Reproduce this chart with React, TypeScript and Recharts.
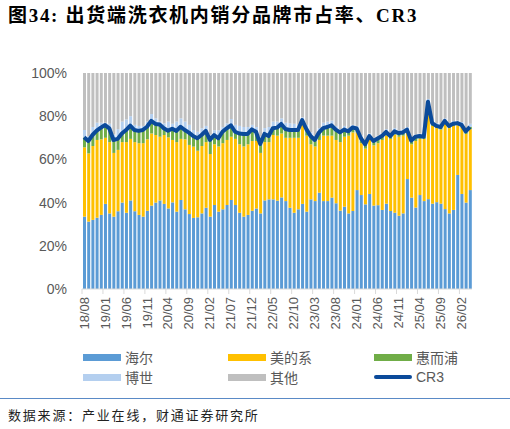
import { ComposedChart, Bar, Line, XAxis, YAxis } from "recharts";

const months = [
  "18/08", "18/09", "18/10", "18/11", "18/12",
  "19/01", "19/02", "19/03", "19/04", "19/05", "19/06", "19/07", "19/08", "19/09", "19/10", "19/11", "19/12",
  "20/01", "20/02", "20/03", "20/04", "20/05", "20/06", "20/07", "20/08", "20/09", "20/10", "20/11", "20/12",
  "21/01", "21/02", "21/03", "21/04", "21/05", "21/06", "21/07", "21/08", "21/09", "21/10", "21/11", "21/12",
  "22/01", "22/02", "22/03", "22/04", "22/05", "22/06", "22/07", "22/08", "22/09", "22/10", "22/11", "22/12",
  "23/01", "23/02", "23/03", "23/04", "23/05", "23/06", "23/07", "23/08", "23/09", "23/10", "23/11", "23/12",
  "24/01", "24/02", "24/03", "24/04", "24/05", "24/06", "24/07", "24/08", "24/09", "24/10", "24/11", "24/12",
  "25/01", "25/02", "25/03", "25/04", "25/05", "25/06", "25/07", "25/08", "25/09", "25/10", "25/11", "25/12",
  "26/01", "26/02", "26/03", "26/04",
];

// shares in %
const haier = [
  33.5, 31.2, 32.0, 33.0, 34.3, 39.4, 35.0, 33.5, 36.0, 40.0,
  35.3, 41.0, 36.0, 34.3, 33.5, 36.2, 38.6, 40.0, 41.0, 39.4,
  37.3, 40.1, 35.8, 41.2, 36.9, 34.7, 32.9, 33.2, 35.0, 37.6,
  33.5, 38.9, 35.8, 36.9, 38.9, 41.2, 38.9, 35.3, 33.5, 34.3,
  36.2, 37.3, 35.0, 41.0, 41.5, 41.5, 40.9, 42.4, 40.7, 37.6,
  35.3, 36.9, 39.4, 35.8, 41.5, 40.7, 44.6, 40.7, 40.7, 42.3,
  39.7, 36.3, 38.1, 35.0, 36.1, 45.8, 43.5, 39.2, 44.0, 38.6,
  38.8, 36.6, 39.5, 36.1, 35.3, 33.9, 35.0, 50.9, 42.3, 37.7,
  43.5, 40.7, 41.6, 39.5, 40.2, 39.5, 37.0, 35.0, 36.6, 52.8,
  44.0, 40.0, 45.8,
];

const midea = [
  32.1, 31.6, 34.2, 36.0, 35.0, 30.6, 33.0, 29.5, 28.4, 28.0,
  32.7, 28.5, 32.0, 33.2, 34.0, 33.1, 33.4, 31.3, 29.5, 31.9,
  32.9, 28.9, 32.2, 28.3, 32.4, 32.0, 33.0, 30.8, 31.2, 30.4,
  29.0, 28.1, 30.2, 30.6, 30.1, 29.3, 30.6, 31.7, 32.5, 32.7,
  32.3, 31.2, 28.0, 27.0, 26.5, 29.8, 30.1, 29.6, 29.3, 32.4,
  34.7, 33.1, 36.6, 35.2, 25.5, 25.3, 24.4, 30.3, 30.3, 28.7,
  29.3, 31.7, 32.4, 36.0, 36.4, 26.7, 24.0, 25.8, 25.5, 27.9,
  28.7, 32.4, 31.5, 33.4, 36.2, 36.6, 36.0, 21.6, 24.7, 30.8,
  26.0, 28.8, 43.9, 36.0, 34.3, 34.3, 39.5, 39.5, 38.9, 23.0,
  31.0, 31.8, 28.2,
];

const whirlpool = [
  4.6, 5.7, 5.1, 4.3, 5.4, 5.9, 6.4, 6.0, 5.1, 4.0,
  5.6, 6.1, 5.6, 5.7, 6.1, 5.8, 5.8, 5.1, 5.7, 3.1,
  3.1, 5.2, 5.2, 5.6, 4.3, 5.7, 4.9, 5.8, 5.1, 5.2,
  6.5, 4.3, 3.8, 5.3, 5.4, 5.3, 3.3, 5.0, 5.8, 4.8,
  5.4, 4.3, 4.1, 3.8, 2.8, 3.1, 3.7, 4.4, 4.1, 3.6,
  3.6, 3.6, 2.2, 3.0, 3.8, 3.0, 3.4, 3.5, 4.0, 4.8,
  4.8, 4.5, 3.3, 2.0, 2.3, 1.8, 2.3, 2.0, 1.3, 2.0,
  2.2, 1.8, 1.7, 1.3, 1.5, 1.7, 1.5, 1.3, 1.7, 2.0,
  1.3, 1.0, 1.2, 1.3, 1.0, 1.2, 1.3, 1.0, 1.0, 1.0,
  1.0, 1.2, 1.0,
];

const bosch = [
  3.4, 2.3, 3.7, 3.7, 2.3, 1.1, 2.1, 2.5, 4.5, 5.5,
  4.9, 4.4, 2.4, 2.3, 1.9, 2.4, 3.2, 2.6, 1.3, 2.3,
  4.2, 2.3, 4.3, 3.9, 3.9, 3.6, 2.8, 3.0, 3.1, 2.3,
  2.5, 2.2, 3.7, 2.2, 2.3, 2.9, 3.2, 3.5, 3.2, 3.2,
  2.1, 2.2, 3.4, 2.7, 4.2, 3.1, 2.8, 2.6, 2.9, 3.1,
  2.9, 2.4, 1.3, 2.0, 1.7, 2.0, 2.1, 2.5, 2.5, 2.2,
  1.7, 1.5, 1.7, 1.5, 1.2, 1.2, 1.2, 1.5, 1.2, 1.5,
  1.3, 1.2, 1.3, 1.2, 1.5, 1.3, 1.5, 1.2, 1.3, 1.0,
  1.2, 1.3, 1.3, 1.2, 1.3, 1.2, 1.2, 1.3, 1.3, 1.2,
  1.3, 1.5, 1.5,
];

const others = [
  26.4, 29.2, 25.0, 23.0, 23.0, 23.0, 23.5, 28.5, 26.0, 22.5,
  21.5, 20.0, 24.0, 24.5, 24.5, 22.5, 19.0, 21.0, 22.5, 23.3,
  22.5, 23.5, 22.5, 21.0, 22.5, 24.0, 26.4, 27.2, 25.6, 24.5,
  28.5, 26.5, 26.5, 25.0, 23.3, 21.3, 24.0, 24.5, 25.0, 25.0,
  24.0, 25.0, 29.5, 25.5, 25.0, 22.5, 22.5, 21.0, 23.0, 23.3,
  23.5, 24.0, 20.5, 24.0, 27.5, 29.0, 25.5, 23.0, 22.5, 22.0,
  24.5, 26.0, 24.5, 25.5, 24.0, 24.5, 29.0, 31.5, 28.0, 30.0,
  29.0, 28.0, 26.0, 28.0, 25.5, 26.5, 26.0, 25.0, 30.0, 28.5,
  28.0, 28.2, 12.0, 22.0, 23.2, 23.8, 21.0, 23.2, 22.2, 22.0,
  22.7, 25.5, 23.5,
];

const cr3 = [
  70.2, 68.5, 71.3, 73.3, 74.7, 75.9, 74.4, 69.0, 69.5, 72.0,
  73.6, 75.6, 73.6, 73.2, 73.6, 75.1, 77.8, 76.4, 76.2, 74.4,
  73.3, 74.2, 73.2, 75.1, 73.6, 72.4, 70.8, 69.8, 71.3, 73.2,
  69.0, 71.3, 69.8, 72.8, 74.4, 75.8, 72.8, 72.0, 71.8, 71.8,
  73.9, 72.8, 67.1, 71.8, 70.8, 74.4, 74.7, 76.4, 74.1, 73.6,
  73.6, 73.6, 78.2, 74.0, 70.8, 69.0, 72.4, 74.5, 75.0, 75.8,
  73.8, 72.5, 73.8, 73.0, 74.8, 74.3, 69.8, 67.0, 70.8, 68.5,
  69.7, 70.8, 72.7, 70.8, 73.0, 72.2, 72.5, 73.8, 68.7, 70.5,
  70.8, 70.5, 86.7, 76.8, 75.5, 75.0, 77.8, 75.5, 76.5, 76.8,
  76.0, 73.0, 75.0,
];

const yTicks = [0, 20, 40, 60, 80, 100];

const data = months.map((month, i) => ({
  month,
  haier: haier[i],
  midea: midea[i],
  whirlpool: whirlpool[i],
  bosch: bosch[i],
  others: others[i],
  cr3: cr3[i],
}));

const COLORS = {
  haier: "#5B9BD5",
  midea: "#FFC000",
  whirlpool: "#70AD47",
  bosch: "#B4CFEF",
  others: "#BFBFBF",
  cr3: "#0B4A9A",
};

const FONT = "'Liberation Sans', Arial, 'Noto Sans CJK SC', sans-serif";
const CHART_W = 510;
const MARGIN = { top: 73, right: 38, bottom: 0, left: 0 };
const Y_AXIS_W = 82;
const halfBand = (CHART_W - MARGIN.left - MARGIN.right - Y_AXIS_W) / months.length / 2;

function MonthTick(props: any) {
  const { x, y, index, payload } = props;
  if (index % 5 !== 0) return <g />;
  return (
    <g transform={`translate(${x},${y})`}>
      <line x1={-halfBand} x2={-halfBand} y1={0} y2={5} stroke="#D9D9D9" />
      <text
        transform="rotate(-90)"
        x={-8}
        y={4.5}
        textAnchor="end"
        fontSize={13}
        fill="#595959"
        fontFamily={FONT}
      >
        {payload.value}
      </text>
    </g>
  );
}

const legendItems = [
  { name: "海尔", color: COLORS.haier, left: 83, top: 357 },
  { name: "美的系", color: COLORS.midea, left: 228, top: 357 },
  { name: "惠而浦", color: COLORS.whirlpool, left: 374, top: 357 },
  { name: "博世", color: COLORS.bosch, left: 83, top: 377 },
  { name: "其他", color: COLORS.others, left: 228, top: 377 },
  { name: "CR3", color: COLORS.cr3, left: 374, top: 377, line: true },
];

export default function App() {
  return (
    <div
      style={{
        position: "absolute",
        left: 0,
        top: 0,
        width: 510,
        height: 429,
        background: "#fff",
        fontFamily: FONT,
      }}
    >
      <div
        style={{
          position: "absolute",
          left: 8,
          top: 4,
          fontSize: 19,
          lineHeight: "23px",
          fontWeight: "bold",
          letterSpacing: 1.7,
          color: "#000",
          fontFamily: "'Liberation Serif', 'Times New Roman', 'Noto Sans CJK SC', serif",
          whiteSpace: "nowrap",
        }}
      >
        图34: 出货端洗衣机内销分品牌市占率、CR3
      </div>

      <div style={{ position: "absolute", left: 0, top: 0 }}>
        <ComposedChart width={CHART_W} height={334} data={data} margin={MARGIN} barCategoryGap={0}>
          <XAxis
            dataKey="month"
            interval={0}
            tickLine={false}
            tickSize={0}
            tickMargin={0}
            height={45}
            axisLine={{ stroke: "#D9D9D9" }}
            tick={<MonthTick />}
          />
          <YAxis
            width={Y_AXIS_W}
            domain={[0, 100]}
            ticks={yTicks}
            allowDataOverflow
            axisLine={false}
            tickLine={false}
            tickSize={0}
            tickMargin={15}
            tickFormatter={(v: number) => `${v}%`}
            tick={{ fontSize: 14, fill: "#595959", fontFamily: FONT }}
          />
          <Bar dataKey="haier" stackId="a" fill={COLORS.haier} barSize={3} isAnimationActive={false} />
          <Bar dataKey="midea" stackId="a" fill={COLORS.midea} barSize={3} isAnimationActive={false} />
          <Bar dataKey="whirlpool" stackId="a" fill={COLORS.whirlpool} barSize={3} isAnimationActive={false} />
          <Bar dataKey="bosch" stackId="a" fill={COLORS.bosch} barSize={3} isAnimationActive={false} />
          <Bar dataKey="others" stackId="a" fill={COLORS.others} barSize={3} isAnimationActive={false} />
          <Line
            dataKey="cr3"
            type="linear"
            stroke={COLORS.cr3}
            strokeWidth={4}
            strokeLinejoin="round"
            dot={false}
            activeDot={false}
            isAnimationActive={false}
          />
        </ComposedChart>
      </div>

      {legendItems.map((item) => (
        <div
          key={item.name}
          style={{
            position: "absolute",
            left: item.left,
            top: item.top - 10,
            height: 20,
            display: "flex",
            alignItems: "center",
            fontSize: 14,
            color: "#595959",
          }}
        >
          <div
            style={{
              width: 38,
              height: item.line ? 4 : 7,
              borderRadius: item.line ? 2 : 0,
              background: item.color,
              marginRight: 4,
            }}
          />
          <span>{item.name}</span>
        </div>
      ))}

      <div
        style={{
          position: "absolute",
          left: 0,
          top: 398,
          width: 510,
          height: 0,
          borderTop: "1.5px solid #5A8AC6",
        }}
      />
      <div
        style={{
          position: "absolute",
          left: 8,
          top: 406,
          fontSize: 13,
          lineHeight: "18px",
          letterSpacing: 1.8,
          color: "#222",
          fontFamily: "'Noto Sans CJK SC', sans-serif",
          whiteSpace: "nowrap",
        }}
      >
        数据来源：产业在线，财通证券研究所
      </div>
    </div>
  );
}
